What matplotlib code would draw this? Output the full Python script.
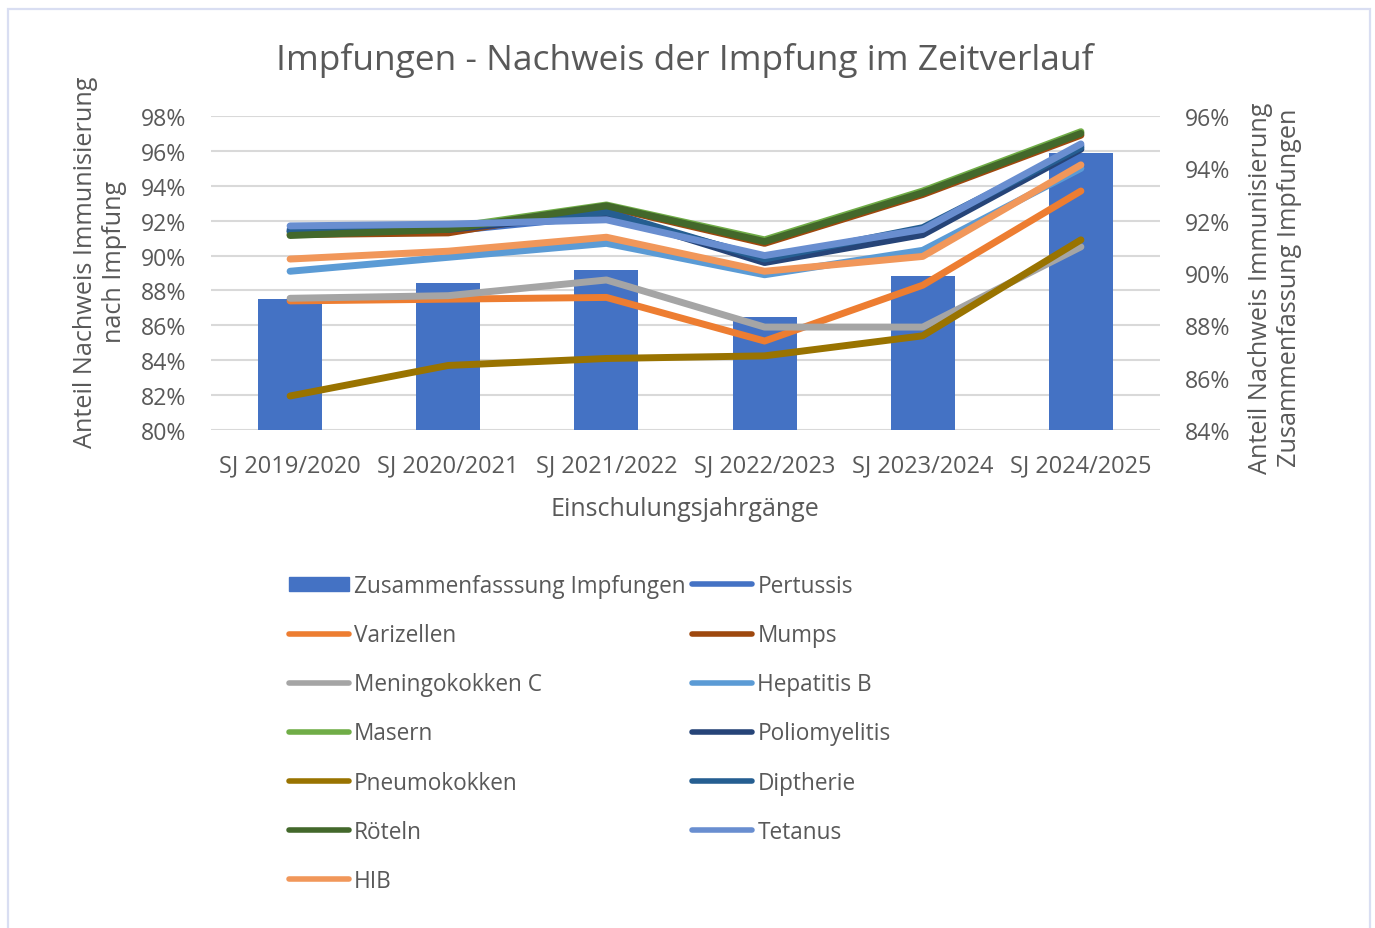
import matplotlib
matplotlib.use("Agg")
import matplotlib.pyplot as plt
from matplotlib.patches import Rectangle, Patch
from matplotlib.lines import Line2D
from matplotlib.ticker import FuncFormatter, MultipleLocator
import numpy as np

plt.rcParams['font.family'] = ['Open Sans', 'DejaVu Sans']

categories = ["SJ 2019/2020", "SJ 2020/2021", "SJ 2021/2022",
              "SJ 2022/2023", "SJ 2023/2024", "SJ 2024/2025"]

zusammenfassung = [89.0, 89.6, 90.1, 88.3, 89.9, 94.6]

pertussis     = [91.5, 91.4, 92.3, 89.9, 91.4, 96.3]
varizellen    = [87.4, 87.5, 87.6, 85.1, 88.3, 93.7]
mumps         = [91.2, 91.3, 92.8, 90.7, 93.5, 96.9]
meningokokken = [87.55, 87.7, 88.6, 85.9, 85.9, 90.5]
hepatitis_b   = [89.1, 89.9, 90.7, 88.9, 90.3, 95.0]
masern        = [91.3, 91.6, 92.9, 90.9, 93.7, 97.1]
polio         = [91.4, 91.5, 92.4, 89.6, 91.2, 96.1]
pneumokokken  = [81.95, 83.7, 84.1, 84.25, 85.4, 90.9]
diphtherie    = [91.4, 91.6, 92.5, 89.8, 91.6, 96.2]
roeteln       = [91.15, 91.5, 92.85, 90.8, 93.6, 97.0]
tetanus       = [91.7, 91.8, 92.05, 90.0, 91.5, 96.4]
hib           = [89.8, 90.25, 91.05, 89.1, 89.95, 95.2]

series = [
    ("Pertussis", pertussis, "#4472C4"),
    ("Varizellen", varizellen, "#ED7D31"),
    ("Mumps", mumps, "#9E480E"),
    ("Meningokokken C", meningokokken, "#A5A5A5"),
    ("Hepatitis B", hepatitis_b, "#5B9BD5"),
    ("Masern", masern, "#70AD47"),
    ("Poliomyelitis", polio, "#264478"),
    ("Pneumokokken", pneumokokken, "#997300"),
    ("Diptherie", diphtherie, "#255E91"),
    ("Röteln", roeteln, "#43682B"),
    ("Tetanus", tetanus, "#698ED0"),
    ("HIB", hib, "#F1975A"),
]
bar_label = "Zusammenfasssung Impfungen"
bar_color = "#4472C4"
text_color = "#595959"

W, H = 1375, 929
fig = plt.figure(figsize=(W / 100, H / 100), dpi=100)
fig.patch.set_facecolor("white")

# chart frame
fig.patches.append(Rectangle((8 / W, -0.02), (1370 - 8) / W, 1.02 - 9.5 / H,
                             transform=fig.transFigure, fill=False,
                             edgecolor="#D9DEF2", linewidth=1.6, zorder=0))

left, right = 211 / W, 1160 / W
bottom, top = 1 - 431 / H, 1 - 117 / H
ax = fig.add_axes([left, bottom, right - left, top - bottom])
ax2 = ax.twinx()
ax3 = ax.twinx()

x = np.arange(len(categories))
pct = FuncFormatter(lambda v, p: f"{v:.0f}%")

# primary axis (grid + left ticks)
ax.set_xlim(-0.5, len(categories) - 0.5)
ax.set_ylim(80, 98)
ax.yaxis.set_major_locator(MultipleLocator(2))
ax.yaxis.set_major_formatter(pct)
ax.grid(axis="y", color="#D9D9D9", linewidth=1.5)
ax.set_xticks(x)
ax.set_xticklabels(categories)
ax.tick_params(axis="both", length=0, labelcolor=text_color)
ax.tick_params(axis="y", labelsize=16.6, pad=18)
ax.tick_params(axis="x", labelsize=17, pad=17)
for sp in ax.spines.values():
    sp.set_visible(False)

# secondary axis (bars)
ax2.bar(x, zusammenfassung, width=0.405, color=bar_color, zorder=2)
ax2.set_ylim(84, 96)
ax2.yaxis.set_major_locator(MultipleLocator(2))
ax2.yaxis.set_major_formatter(pct)
ax2.tick_params(axis="y", length=0, labelcolor=text_color, labelsize=16.6, pad=18)
for sp in ax2.spines.values():
    sp.set_visible(False)

# lines on top, same scale as primary
ax3.set_ylim(80, 98)
ax3.set_xlim(-0.5, len(categories) - 0.5)
ax3.axis("off")
for name, vals, col in series:
    ax3.plot(x, vals, color=col, linewidth=5, solid_capstyle="round",
             solid_joinstyle="round")

# texts
fig.text(685 / W, 1 - 61 / H, "Impfungen - Nachweis der Impfung im Zeitverlauf",
         fontsize=25.5, color=text_color, ha="center", va="center")
fig.text(685 / W, 1 - 510 / H, "Einschulungsjahrgänge", fontsize=18,
         color=text_color, ha="center", va="center")
fig.text(100 / W, 1 - 262 / H, "Anteil Nachweis Immunisierung\nnach Impfung",
         fontsize=18.2, color=text_color, ha="center", va="center",
         rotation=90, linespacing=1.22, multialignment="center")
fig.text(1275 / W, 1 - 288 / H, "Anteil Nachweis Immunisierung\nZusammenfassung Impfungen",
         fontsize=18.2, color=text_color, ha="center", va="center",
         rotation=90, linespacing=1.22, multialignment="center")

# legend (column-wise order reproducing row-wise layout)
handles = {}
handles[bar_label] = Patch(facecolor=bar_color, edgecolor=bar_color)
for name, vals, col in series:
    handles[name] = Line2D([0], [0], color=col, linewidth=4, solid_capstyle="round")
order = [bar_label, "Varizellen", "Meningokokken C", "Masern", "Pneumokokken", "Röteln", "HIB",
         "Pertussis", "Mumps", "Hepatitis B", "Poliomyelitis", "Diptherie", "Tetanus"]
leg = fig.legend([handles[k] for k in order], order, ncol=2, loc="upper left",
                 bbox_to_anchor=(289 / W, 1 - 575 / H), frameon=False,
                 fontsize=16.3, labelcolor=text_color, handlelength=2.65,
                 handleheight=0.6, handletextpad=0.22, columnspacing=0.3,
                 labelspacing=1.11, borderaxespad=0, borderpad=0)

fig.savefig("out.png", dpi=100, facecolor="white")
